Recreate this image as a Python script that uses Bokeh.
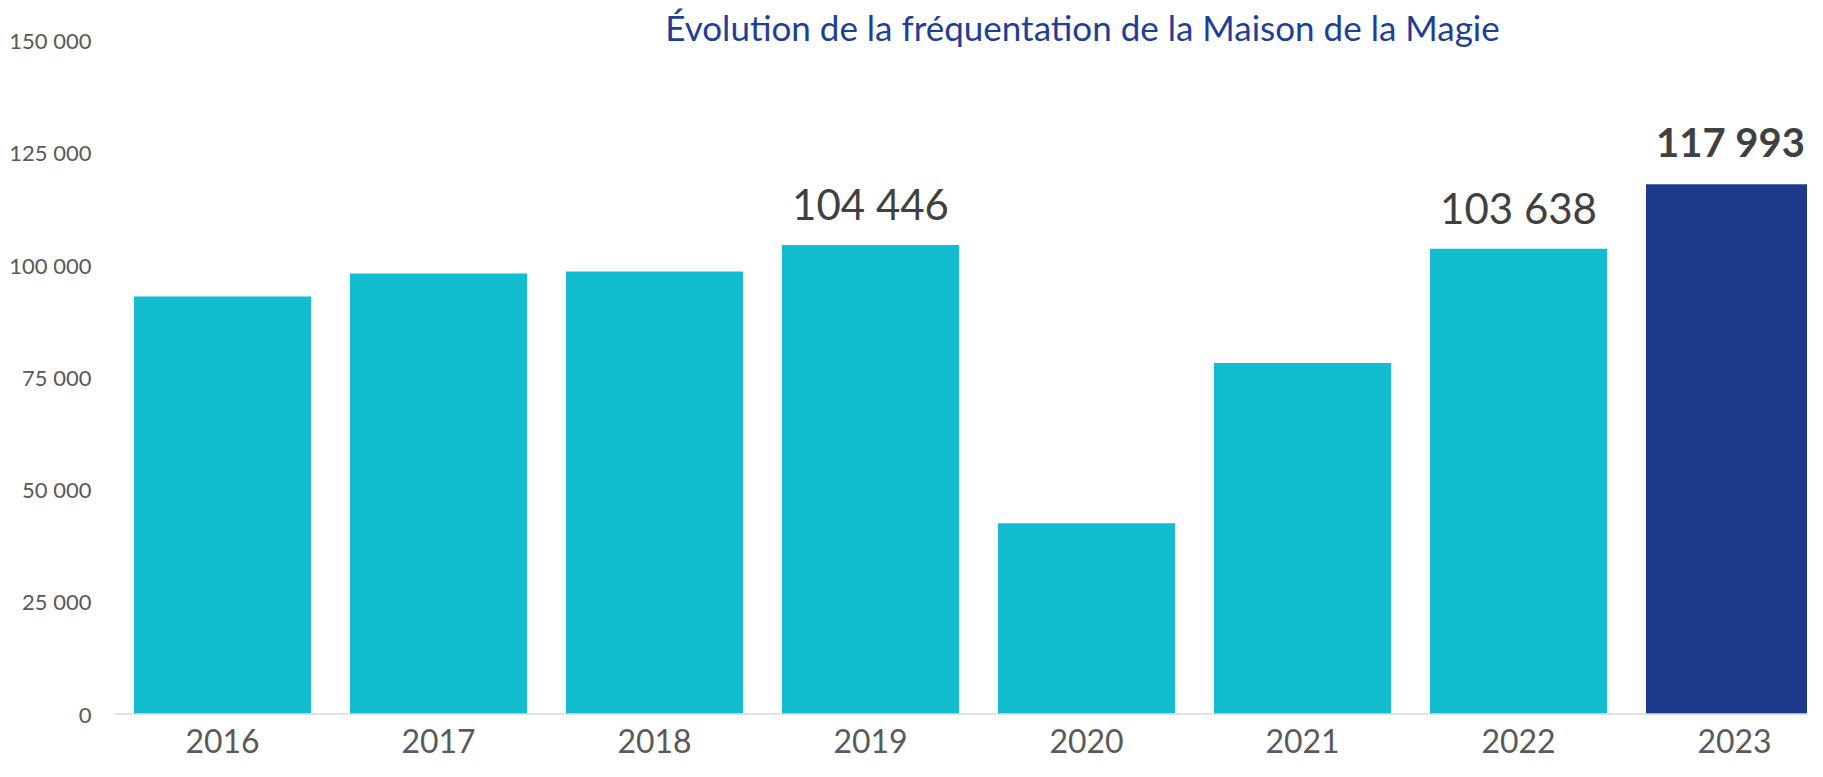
from bokeh.plotting import figure
from bokeh.models import Range1d, FixedTicker, Label, ColumnDataSource, Span
from bokeh.core.properties import value
from bokeh.embed import file_html
from bokeh.resources import INLINE

# ---- data ----
years = ["2016", "2017", "2018", "2019", "2020", "2021", "2022", "2023"]
visitors = [93000, 98100, 98550, 104446, 42500, 78200, 103638, 117993]
labelled_years = ["2019", "2022", "2023"]
highlight_year = "2023"
y_ticks = [0, 25000, 50000, 75000, 100000, 125000, 150000]
y_tick_labels = ["0", "25 000", "50 000", "75 000", "100 000", "125 000", "150 000"]
title_text = "Évolution de la fréquentation de la Maison de la Magie"

FONT = "Lato"
CYAN = "#12BDD0"
NAVY = "#1E3A8C"

# ---- layout (pixels) ----
W, H = 1807, 761
LEFT = 114          # frame left edge
CAT_PX = 216.0      # width of one category
ZERO_PX = 713.5     # pixel row of value 0 (from top)
TOP_PX = 40.0       # pixel row of value 150 000
Y_MAX = 150000
per_px = Y_MAX / (ZERO_PX - TOP_PX)

x_end = (W - LEFT) / CAT_PX
y_start = -(H - ZERO_PX) * per_px
y_end = Y_MAX + TOP_PX * per_px

p = figure(width=W, height=H, output_backend="svg", toolbar_location=None,
           x_range=Range1d(0, x_end), y_range=Range1d(y_start, y_end),
           x_axis_location=None,
           min_border_left=LEFT, min_border_right=0, min_border_top=0,
           min_border_bottom=0, outline_line_color=None)
p.grid.visible = False
p.background_fill_color = "white"
p.border_fill_color = "white"

xs = [i + 0.5 for i in range(len(years))]
colors = [NAVY if y == highlight_year else CYAN for y in years]
src = ColumnDataSource(dict(x=xs, top=visitors, color=colors, year=years))
p.vbar(x="x", top="top", bottom=0, width=177 / CAT_PX, fill_color="color",
       line_color=None, source=src)

# baseline (category axis line)
p.add_layout(Span(location=0, dimension="width", line_color="#D9D9D9",
                  line_width=1.5))

# category labels
p.text(x="x", y=0, text="year", source=src, text_font=value(FONT),
       text_font_size="32px", text_color="#595959", text_align="center",
       text_baseline="middle", y_offset=27)

# value labels
def fmt(v):
    return f"{v:,}".replace(",", " ")

reg = dict(x=[], y=[], t=[])
bold = dict(x=[], y=[], t=[])
for x, v, yr in zip(xs, visitors, years):
    if yr in labelled_years:
        d = bold if yr == highlight_year else reg
        d["x"].append(x); d["y"].append(v); d["t"].append(fmt(v))
p.text(x="x", y="y", text="t", source=ColumnDataSource(reg),
       text_font=value(FONT), text_font_size="42px", text_color="#404040",
       text_align="center", text_baseline="alphabetic", y_offset=-41)
p.text(x="x", y="y", text="t", source=ColumnDataSource(bold),
       text_font=value(FONT), text_font_size="40px", text_font_style="bold",
       text_color="#404040", text_align="center", text_baseline="alphabetic",
       y_offset=-42, x_offset=-4)

# y axis
ya = p.yaxis[0]
ya.ticker = FixedTicker(ticks=y_ticks)
ya.major_label_overrides = {t: l for t, l in zip(y_ticks, y_tick_labels)}
ya.axis_line_color = None
ya.major_tick_line_color = None
ya.minor_tick_line_color = None
ya.major_tick_out = 0
ya.major_tick_in = 0
ya.major_label_standoff = 23
ya.major_label_text_font = FONT
ya.major_label_text_font_size = "22px"
ya.major_label_text_color = "#595959"

# title
title_x = (1082 - LEFT) / CAT_PX
title_y = Y_MAX + 14 * per_px
p.add_layout(Label(x=title_x, y=title_y, text=title_text, text_font=FONT,
                   text_font_size="35px", text_color="#1F3E98",
                   text_align="center", text_baseline="middle"))

open("out.html", "w").write(file_html(p, INLINE))
